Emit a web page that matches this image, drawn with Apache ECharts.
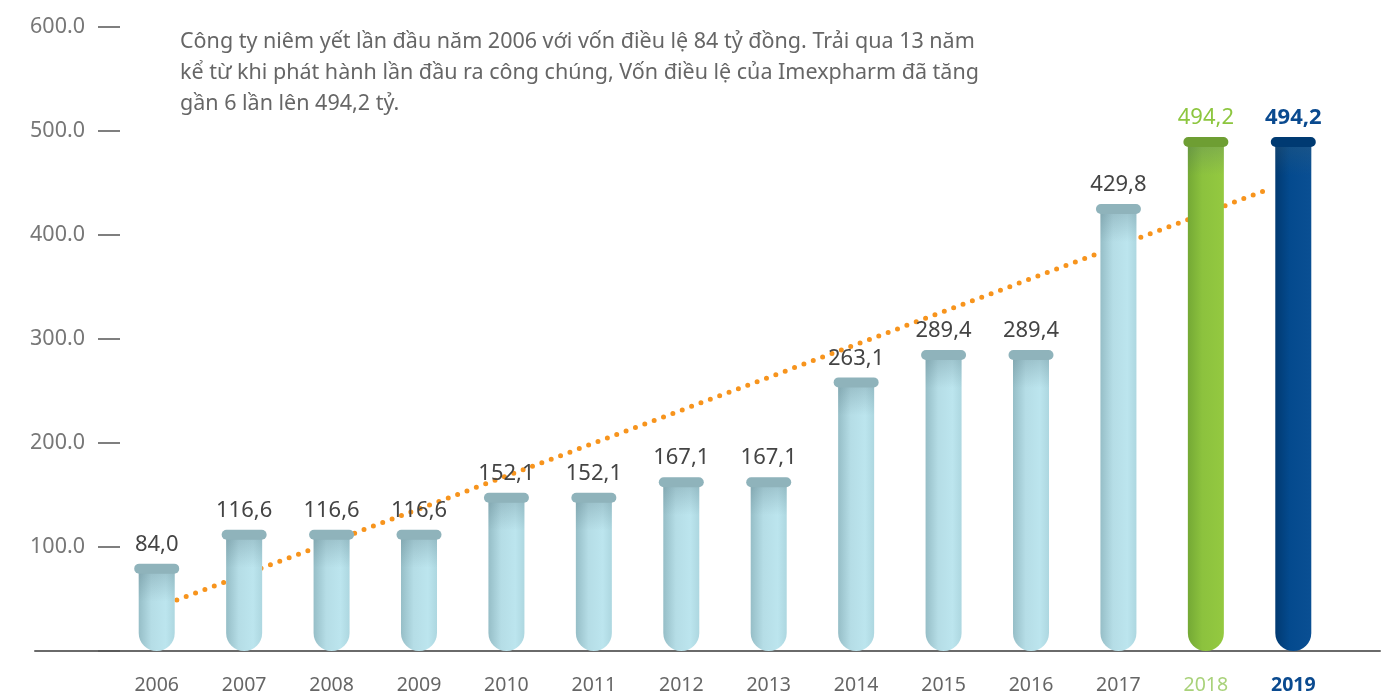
<!DOCTYPE html>
<html>
<head>
<meta charset="utf-8">
<script src="https://cdn.jsdelivr.net/npm/echarts@6/dist/echarts.min.js"></script>
<style>
html,body{margin:0;padding:0;background:#fff;}
#chart{width:1386px;height:695px;}
</style>
</head>
<body>
<div id="chart"></div>
<script>
// ---- data ----
var years = ['2006','2007','2008','2009','2010','2011','2012','2013','2014','2015','2016','2017','2018','2019'];
var capital = [84.0, 116.6, 116.6, 116.6, 152.1, 152.1, 167.1, 167.1, 263.1, 289.4, 289.4, 429.8, 494.2, 494.2];
var trendPoints = [[0.23, 49], [12.75, 445]]; // dotted trend line endpoints (category index, value)
var yTicks = [0, 100, 200, 300, 400, 500, 600];
var note = 'Công ty niêm yết lần đầu năm 2006 với vốn điều lệ 84 tỷ đồng. Trải qua 13 năm\n' +
           'kể từ khi phát hành lần đầu ra công chúng, Vốn điều lệ của Imexpharm đã tăng\n' +
           'gần 6 lần lên 494,2 tỷ.';

var FONT = '"Noto Sans", "Open Sans", sans-serif';

function lin(x1, y1, x2, y2, stops) {
  return new echarts.graphic.LinearGradient(x1, y1, x2, y2, stops);
}
function palette(i) {
  if (i === 12) return {
    body: lin(0,0,1,0,[{offset:0,color:'#74a935'},{offset:0.4,color:'#8cc23e'},{offset:1,color:'#94c940'}]),
    cap: '#6e9e33', label: '#8dc63f', weight: 'normal'
  };
  if (i === 13) return {
    body: lin(0,0,1,0,[{offset:0,color:'#013a72'},{offset:0.4,color:'#044a8e'},{offset:1,color:'#0a4f93'}]),
    cap: '#003a72', label: '#0a4a8f', weight: 'bold'
  };
  return {
    body: lin(0,0,1,0,[{offset:0,color:'#96bec7'},{offset:0.35,color:'#b5dde6'},{offset:0.75,color:'#bce5ee'},{offset:1,color:'#add7e0'}]),
    cap: '#8fb3bb', label: '#444444', weight: 'normal'
  };
}

var chart = echarts.init(document.getElementById('chart'));
var option = {
  animation: false,
  backgroundColor: '#ffffff',
  title: {
    text: note,
    left: 180, top: 26, padding: 0,
    textStyle: {fontFamily: FONT, fontSize: 21.5, fontWeight: 'normal', color: '#666666', lineHeight: 31}
  },
  grid: [
    {left: 35, right: 6, top: 27, bottom: 44},
    {left: 113, right: 49, top: 27, bottom: 44}
  ],
  xAxis: [
    {gridIndex: 0, type: 'value', min: 0, max: 1, axisLine: {show: true, lineStyle: {color: '#6a6a6a', width: 2}},
     axisTick: {show: false}, axisLabel: {show: false}, splitLine: {show: false}},
    {gridIndex: 1, type: 'category', data: years, boundaryGap: true,
     axisLine: {show: false}, axisTick: {show: false},
     axisLabel: {
       interval: 0, margin: 24,
       formatter: function (val, idx) {
         if (idx === 12) return '{g|' + val + '}';
         if (idx === 13) return '{n|' + val + '}';
         return '{d|' + val + '}';
       },
       rich: {
         d: {fontFamily: FONT, fontSize: 19.5, color: '#666666'},
         g: {fontFamily: FONT, fontSize: 19.5, color: '#a9d27a'},
         n: {fontFamily: FONT, fontSize: 19.5, color: '#0a4a8f', fontWeight: 'bold'}
       }
     }},
    {gridIndex: 1, type: 'value', min: -0.5, max: 13.5, show: false}
  ],
  yAxis: [
    {gridIndex: 0, type: 'value', min: yTicks[0], max: yTicks[yTicks.length-1], interval: 100, offset: -63,
     axisLine: {show: false},
     axisTick: {show: true, inside: true, length: 22, lineStyle: {color: '#555555', width: 1.5}},
     axisLabel: {margin: 13, fontFamily: FONT, fontSize: 21.5, color: '#777777',
       formatter: function (v) { return v === 0 ? '' : v.toFixed(1); }},
     splitLine: {show: false}},
    {gridIndex: 1, type: 'value', min: yTicks[0], max: yTicks[yTicks.length-1], show: false}
  ],
  series: [
    {
      type: 'line', xAxisIndex: 2, yAxisIndex: 1, data: trendPoints, showSymbol: false, z: 1,
      lineStyle: {color: '#f7941d', width: 5, type: [0, 10], cap: 'round'}
    },
    {
      type: 'custom', xAxisIndex: 1, yAxisIndex: 1, z: 2,
      data: capital.map(function (v, i) { return [years[i], v]; }),
      encode: {x: 0, y: 1},
      renderItem: function (params, api) {
        var i = params.dataIndex;
        var v = api.value(1);
        var top = api.coord([api.value(0), v]);
        var base = api.coord([api.value(0), 0]);
        var cx = top[0], ty = top[1], by = base[1];
        var tw = 36, cw = 45, ch = 10;
        var p = palette(i);
        var bodyTop = ty + ch - 2;
        var bodyH = by - bodyTop;
        return {
          type: 'group',
          children: [
            {type: 'rect', shape: {x: cx - tw/2, y: bodyTop, width: tw, height: bodyH, r: [0, 0, tw/2, tw/2]},
             style: {fill: p.body}},
            {type: 'rect', shape: {x: cx - tw/2, y: bodyTop, width: tw, height: Math.min(30, bodyH - tw/2)},
             style: {fill: lin(0,0,0,1,[{offset:0,color:'rgba(70,100,110,0.25)'},{offset:1,color:'rgba(70,100,110,0)'}])}},
            {type: 'rect', shape: {x: cx - cw/2, y: ty, width: cw, height: ch, r: 5},
             style: {fill: p.cap}},
            {type: 'text', z2: 10,
             style: {text: v.toFixed(1).replace('.', ','), x: cx, y: ty - 8,
                     textAlign: 'center', textVerticalAlign: 'bottom',
                     fontFamily: FONT, fontSize: 22, fontWeight: p.weight, fill: p.label}}
          ]
        };
      }
    }
  ]
};
chart.setOption(option);
</script>
</body>
</html>
